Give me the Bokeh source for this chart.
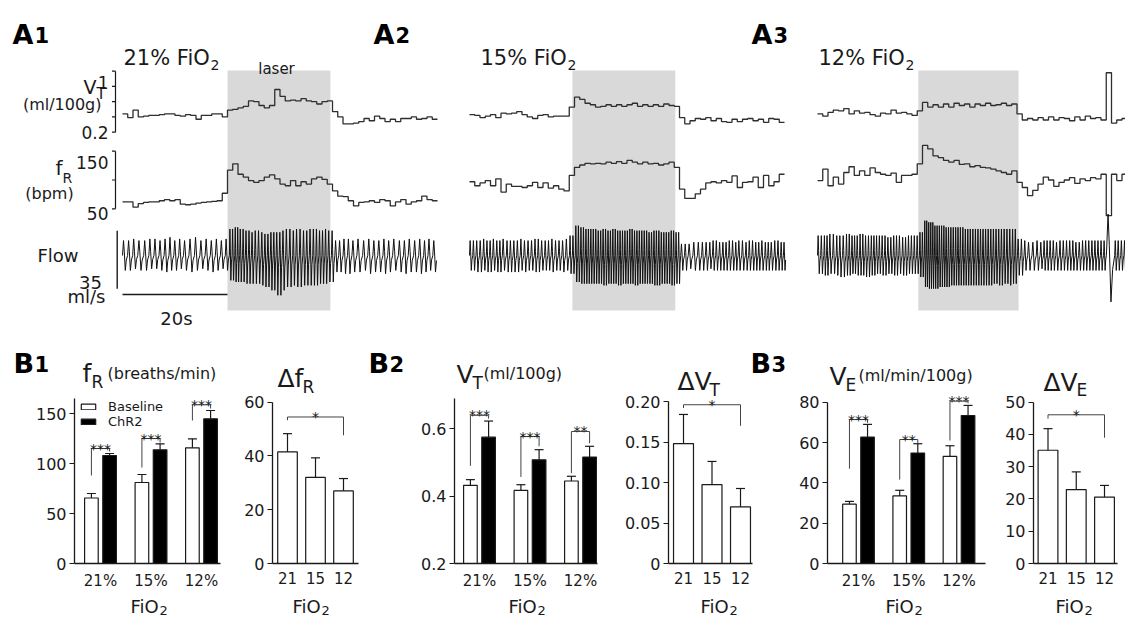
from bokeh.plotting import figure
from bokeh.models import (Range1d, FixedTicker, Legend, LegendItem, Whisker, TeeHead, LinearAxis,
                          ColumnDataSource, PrintfTickFormatter)
from bokeh.core.properties import value
from bokeh.embed import file_html
from bokeh.resources import INLINE

FONT = "DejaVu Sans"
INK = "#1a1a1a"
TRACE = "#2e2e2e"

# ---------------- trace data (1-s bins, 60 s per panel) ----------------
a1_vt = [0.44, 0.39, 0.49, 0.40, 0.41, 0.42, 0.42, 0.43, 0.44, 0.44,
         0.42, 0.41, 0.43, 0.42, 0.37, 0.42, 0.42, 0.44, 0.44, 0.40,
         0.49, 0.50, 0.52, 0.54, 0.61, 0.60, 0.55, 0.52, 0.55, 0.76,
         0.67, 0.61, 0.62, 0.61, 0.64, 0.61, 0.60, 0.57, 0.60, 0.61,
         0.47, 0.40, 0.31, 0.31, 0.32, 0.34, 0.38, 0.35, 0.41, 0.38,
         0.34, 0.37, 0.34, 0.38, 0.38, 0.40, 0.37, 0.38, 0.40, 0.37]
a1_fr = [62, 62, 53, 59, 61, 62, 62, 64, 66, 64,
         66, 58, 57, 58, 60, 61, 62, 63, 64, 77,
         117, 128, 110, 105, 99, 96, 99, 105, 109, 102,
         93, 90, 99, 90, 97, 93, 102, 105, 101, 93,
         81, 72, 71, 64, 55, 61, 62, 64, 61, 66,
         64, 55, 62, 66, 58, 62, 64, 72, 66, 64]
a1_flow_hi = [9, 10, 9, 11, 9, 10, 9, 10, 11, 9, 10, 9, 10, 11, 9, 10, 9, 10, 9, 10,
              16, 17, 16, 15, 14, 15, 14, 13, 14, 14, 15, 16, 15, 16, 15, 16, 16, 15, 16, 15,
              9, 9, 10, 9, 10, 9, 10, 9, 9, 10, 9, 10, 9, 9, 10, 9, 10, 9, 10, 9]
a1_flow_lo = [-9, -8, -9, -10, -9, -8, -9, -10, -9, -9, -8, -9, -10, -9, -8, -9, -10, -9, -8, -9,
              -15, -16, -16, -17, -17, -17, -18, -19, -21, -24, -21, -19, -18, -19, -18, -18, -18, -17, -17, -16,
              -10, -10, -11, -10, -10, -9, -11, -10, -10, -11, -10, -9, -10, -11, -10, -10, -11, -10, -9, -10]

a2_vt = [0.43, 0.42, 0.39, 0.41, 0.43, 0.39, 0.45, 0.44, 0.45, 0.47,
         0.43, 0.40, 0.38, 0.42, 0.43, 0.40, 0.41, 0.41, 0.41, 0.53,
         0.66, 0.63, 0.58, 0.56, 0.53, 0.54, 0.56, 0.54, 0.56, 0.54,
         0.56, 0.58, 0.54, 0.56, 0.54, 0.56, 0.54, 0.57, 0.55, 0.54,
         0.39, 0.31, 0.35, 0.38, 0.37, 0.39, 0.35, 0.38, 0.34, 0.33,
         0.37, 0.34, 0.37, 0.38, 0.35, 0.37, 0.33, 0.38, 0.37, 0.33]
a2_fr = [97, 90, 95, 99, 90, 102, 79, 93, 89, 89,
         87, 90, 96, 87, 95, 86, 90, 84, 81, 108,
         122, 126, 129, 128, 129, 128, 131, 129, 132, 129,
         134, 131, 128, 131, 128, 129, 126, 128, 131, 122,
         84, 68, 68, 76, 84, 95, 97, 95, 99, 96,
         107, 87, 96, 97, 105, 87, 108, 90, 97, 110]
a2_flow_hi = [9, 9, 10, 9, 10, 9, 10, 9, 9, 10, 9, 9, 10, 9, 9, 10, 9, 9, 10, 12,
              18, 17, 16, 16, 15, 16, 15, 16, 15, 15, 16, 15, 15, 15, 14, 15, 14, 14, 15, 14,
              7, 7, 8, 8, 8, 8, 9, 8, 8, 9, 8, 9, 8, 9, 8, 9, 8, 8, 9, 8]
a2_flow_lo = [-9, -10, -9, -10, -9, -10, -9, -10, -10, -9, -10, -9, -10, -9, -9, -10, -9, -10, -9, -11,
              -16, -17, -17, -17, -17, -18, -17, -17, -18, -17, -17, -18, -17, -17, -17, -18, -17, -17, -18, -17,
              -9, -8, -9, -9, -9, -8, -9, -9, -9, -9, -9, -9, -9, -9, -9, -9, -9, -9, -9, -9]

a3_vt = [0.44, 0.41, 0.46, 0.49, 0.48, 0.51, 0.44, 0.48, 0.45, 0.46,
         0.43, 0.41, 0.45, 0.44, 0.49, 0.45, 0.46, 0.44, 0.42, 0.48,
         0.59, 0.53, 0.56, 0.53, 0.57, 0.53, 0.58, 0.55, 0.57, 0.53,
         0.57, 0.55, 0.58, 0.55, 0.56, 0.58, 0.55, 0.57, 0.44, 0.36,
         0.38, 0.36, 0.39, 0.36, 0.40, 0.36, 0.39, 0.38, 0.35, 0.40,
         0.36, 0.41, 0.38, 0.39, 0.36, 0.98, 0.32, 0.36, 0.38, 0.40]
a3_fr = [99, 119, 90, 105, 93, 113, 123, 108, 116, 108,
         121, 113, 110, 108, 112, 96, 108, 108, 110, 128,
         160, 154, 142, 139, 134, 131, 134, 127, 128, 123,
         125, 122, 121, 119, 116, 113, 110, 116, 96, 87,
         73, 82, 93, 105, 100, 89, 96, 100, 104, 94,
         102, 99, 104, 102, 110, 38, 110, 99, 110, 108]
a3_flow_hi = [12, 12, 13, 12, 12, 13, 12, 12, 13, 12, 12, 12, 12, 11, 12, 12, 11, 12, 12, 14,
              21, 20, 18, 18, 17, 17, 17, 17, 16, 16, 16, 16, 16, 16, 16, 16, 16, 16, 10, 9,
              8, 9, 8, 9, 9, 8, 9, 9, 9, 8, 9, 9, 9, 9, 9, 25, 9, 9, 9, 9]
a3_flow_lo = [-11, -12, -11, -12, -13, -12, -11, -12, -12, -13, -12, -11, -12, -11, -12, -11, -12, -11, -11, -13,
              -19, -20, -20, -19, -19, -18, -18, -18, -18, -18, -18, -18, -18, -17, -18, -17, -18, -17, -12, -9,
              -9, -9, -8, -9, -9, -9, -9, -9, -9, -9, -9, -9, -9, -9, -9, -28, -9, -9, -9, -9]

laser_on = [20.0, 19.6, 19.2]
laser_off = [39.6, 39.2, 38.3]
conditions = ["21% FiO", "15% FiO", "12% FiO"]
vt_scale_ticks = [0.2, 0.4, 0.6, 0.8, 1.0]
fr_scale_ticks = [50, 100, 150]
flow_scale = 35      # ml/s
time_scale = 20      # s

# ---------------- bar data ----------------
fio2_pct = ["21%", "15%", "12%"]
fio2_num = ["21", "15", "12"]
fr_base = [65.5, 81.0, 115.7]
fr_base_sem = [4.5, 8.0, 9.0]
fr_chr2 = [108.0, 113.7, 144.7]
fr_chr2_sem = [2.0, 6.0, 8.3]
dfr = [41.5, 32.0, 27.0]
dfr_sem = [6.8, 7.3, 4.6]
vt_base = [0.432, 0.417, 0.445]
vt_base_sem = [0.017, 0.017, 0.014]
vt_chr2 = [0.575, 0.508, 0.516]
vt_chr2_sem = [0.048, 0.030, 0.032]
dvt = [0.148, 0.0975, 0.070]
dvt_sem = [0.036, 0.0285, 0.0226]
ve_base = [29.4, 33.5, 53.1]
ve_base_sem = [1.4, 2.8, 5.3]
ve_chr2 = [62.7, 54.8, 73.4]
ve_chr2_sem = [6.3, 4.6, 5.0]
dve = [35.1, 22.9, 20.6]
dve_sem = [6.7, 5.5, 3.6]

# significance brackets: (stars, top, left-leg bottom, right-leg bottom)
fr_sig = ["***", "***", "***"]; fr_sig_top = [115, 125, 158.7]; fr_sig_l = [88, 96, 143]; fr_sig_r = [112, 121, 155]
dfr_sig = ["*"]; dfr_sig_top = [54.5]; dfr_sig_l = [53.3]; dfr_sig_r = [47.7]
vt_sig = ["***", "***", "**"]; vt_sig_top = [0.64, 0.577, 0.592]; vt_sig_l = [0.49, 0.457, 0.468]; vt_sig_r = [0.63, 0.548, 0.557]
dvt_sig = ["*"]; dvt_sig_top = [0.196]; dvt_sig_l = [0.192]; dvt_sig_r = [0.17]
ve_sig = ["***", "**", "***"]; ve_sig_top = [71.4, 61.5, 80.5]; ve_sig_l = [47, 41.6, 61]; ve_sig_r = [69.8, 59.7, 79.4]
dve_sig = ["*"]; dve_sig_top = [46.1]; dve_sig_l = [44.9]; dve_sig_r = [39.0]

# ---------------- layout (page pixels) ----------------
W, H = 1125, 617
BASE_PX = 563
PPS = 105 / 20.0
panel_x0 = [122, 469, 817]


def lin_range(v_a, px_a, v_b, px_b, px_lo, px_hi):
    k = (px_b - px_a) / (v_b - v_a)
    return Range1d(v_a + (px_lo - px_a) / k, v_a + (px_hi - px_a) / k)


p = figure(width=W, height=H, x_range=Range1d(0, W), y_range=Range1d(H, 0),
           x_axis_type=None, y_axis_type=None, toolbar_location=None, output_backend="svg",
           min_border=0, title=None)
p.outline_line_color = None


def add_text(x, y, s, size, bold=False, align="left", color=INK):
    p.text(x=[x], y=[y], text=[s], text_font=value(FONT), text_font_size=f"{size}px",
           text_font_style="bold" if bold else "normal", text_align=align,
           text_baseline="alphabetic", text_color=color)


# ================= A: traces =================
for i, x0 in enumerate(panel_x0):
    p.extra_x_ranges[f"a{i+1}"] = Range1d((0 - x0) / PPS, (W - x0) / PPS)
p.extra_y_ranges["vt"] = lin_range(1.0, 70.7, 0.2, 131.7, H, 0)
p.extra_y_ranges["fr"] = lin_range(150, 150.7, 50, 208.3, H, 0)
p.extra_y_ranges["flow"] = lin_range(0, 255, 35, 197, H, 0)


def step_xy(vals):
    return list(range(len(vals) + 1)), list(vals) + [vals[-1]]


def flow_xy(fr, hi, lo):
    xs, ys = [], []
    t = 0.0
    while t < len(fr):
        k = int(t)
        d = 60.0 / fr[k]
        xs += [t, t + 0.2 * d, t + 0.35 * d, t + 0.55 * d, t + 0.75 * d]
        ys += [0.0, hi[k], 0.25 * hi[k], lo[k], 0.3 * lo[k]]
        t += d
    return xs, ys


panels = [(a1_vt, a1_fr, a1_flow_hi, a1_flow_lo),
          (a2_vt, a2_fr, a2_flow_hi, a2_flow_lo),
          (a3_vt, a3_fr, a3_flow_hi, a3_flow_lo)]

for i, (vt, fr, fhi, flo) in enumerate(panels):
    xr = f"a{i+1}"
    p.quad(left=[laser_on[i]], right=[laser_off[i]], top=[70], bottom=[310], x_range_name=xr,
           fill_color="#d9d9d9", line_color=None)
    x, y = step_xy(vt)
    p.step(x=x, y=y, mode="after", x_range_name=xr, y_range_name="vt", line_color=TRACE, line_width=1.3)
    x, y = step_xy(fr)
    p.step(x=x, y=y, mode="after", x_range_name=xr, y_range_name="fr", line_color=TRACE, line_width=1.3)
    x, y = flow_xy(fr, fhi, flo)
    p.line(x=x, y=y, x_range_name=xr, y_range_name="flow", line_color="#111111", line_width=1.0)

# scale bars (panel A1)
xb = (115 - panel_x0[0]) / PPS
tl = 3.5 / PPS
p.segment(x0=[xb], y0=[vt_scale_ticks[0]], x1=[xb], y1=[vt_scale_ticks[-1]], x_range_name="a1",
          y_range_name="vt", line_color=INK, line_width=1.2)
p.segment(x0=[xb - tl] * 5, y0=vt_scale_ticks, x1=[xb] * 5, y1=vt_scale_ticks, x_range_name="a1",
          y_range_name="vt", line_color=INK, line_width=1.2)
p.segment(x0=[xb], y0=[fr_scale_ticks[0]], x1=[xb], y1=[fr_scale_ticks[-1]], x_range_name="a1",
          y_range_name="fr", line_color=INK, line_width=1.2)
p.segment(x0=[xb - tl] * 3, y0=fr_scale_ticks, x1=[xb] * 3, y1=fr_scale_ticks, x_range_name="a1",
          y_range_name="fr", line_color=INK, line_width=1.2)
xf = (116.7 - panel_x0[0]) / PPS
p.segment(x0=[xf], y0=[-20], x1=[xf], y1=[-20 + flow_scale], x_range_name="a1", y_range_name="flow",
          line_color=INK, line_width=1.4)
p.segment(x0=[0], y0=[294], x1=[time_scale], y1=[294], x_range_name="a1", line_color=INK, line_width=1.4)

for (lx, d) in [(12, "1"), (373, "2"), (751, "3")]:
    add_text(lx, 34, "A", 27, bold=True, color="#000")
    add_text(lx + 22, 34, d, 21, bold=True, color="#000")
for (lx, s) in zip([123, 480, 818], conditions):
    add_text(lx, 57, s, 21)
    add_text(lx + 87, 64, "2", 14)
add_text(276, 68, "laser", 15, align="center")
add_text(83, 86, "V", 19)
add_text(96, 93, "T", 15)
add_text(101, 104, "(ml/100g)", 16, align="right")
add_text(108, 82, "1", 17, align="right")
add_text(108, 132, "0.2", 17, align="right")
add_text(55, 167, "f", 20)
add_text(62, 177, "R", 14)
add_text(49, 193, "(bpm)", 16, align="center")
add_text(108, 162, "150", 17, align="right")
add_text(108, 213, "50", 17, align="right")
add_text(37, 255, "Flow", 18)
add_text(90, 282, "35", 18, align="center")
add_text(105, 296, "ml/s", 18, align="right")
add_text(176, 318, "20s", 18, align="center")

# ================= B: bar charts =================
GW, GOFF, DW = 0.27, 0.18, 0.70
cats = [1, 2, 3]


def bar_chart(name, frame, xpx, base, tick_top, tick_top_px, axis_top, ticks, xlabels, yfmt=None, yover=None):
    fl, fr_ = frame
    ppu = (BASE_PX - tick_top_px) / (tick_top - base)
    ppx = (xpx[1] - xpx[0]) / 2.0
    xn, yn = name + "x", name + "y"
    p.extra_x_ranges[xn] = lin_range(1, xpx[0], 3, xpx[1], 0, W)
    p.extra_y_ranges[yn] = lin_range(base, BASE_PX, tick_top, tick_top_px, H, 0)
    x_left = 1 + (fl - xpx[0]) / ppx
    x_right = 1 + (fr_ - xpx[0]) / ppx
    ya = LinearAxis(x_range_name=xn, y_range_name=yn, fixed_location=x_left, bounds=(base, axis_top),
                    ticker=FixedTicker(ticks=ticks))
    xa = LinearAxis(x_range_name=xn, y_range_name=yn, fixed_location=base, bounds=(x_left, x_right),
                    ticker=FixedTicker(ticks=cats),
                    major_label_overrides={1: xlabels[0], 2: xlabels[1], 3: xlabels[2]})
    for ax in (xa, ya):
        ax.axis_line_color = INK
        ax.axis_line_width = 1.3
        ax.major_tick_line_color = INK
        ax.major_tick_line_width = 1.2
        ax.minor_tick_line_color = None
        ax.major_label_text_font = FONT
        ax.major_label_text_color = INK
    xa.major_tick_out = 0
    xa.major_tick_in = 0
    xa.major_label_standoff = 8
    xa.major_label_text_font_size = "15px"
    ya.major_tick_out = 5
    ya.major_tick_in = 0
    ya.major_label_standoff = 3
    ya.major_label_text_font_size = "16px"
    if yfmt is not None:
        ya.formatter = yfmt
    if yover is not None:
        ya.major_label_overrides = yover
    p.add_layout(ya, "left")
    p.add_layout(xa, "below")
    return xn, yn


def whiskers(xn, yn, xs, vals, sems):
    src = ColumnDataSource(dict(x=xs, lower=vals, upper=[v + s for v, s in zip(vals, sems)]))
    p.add_layout(Whisker(source=src, base="x", lower="lower", upper="upper", dimension="height",
                         x_range_name=xn, y_range_name=yn,
                         line_color=INK, line_width=1.2, level="overlay", lower_head=None,
                         upper_head=TeeHead(size=9, line_color=INK, line_width=1.2)))


def brackets(xn, yn, xl, xr, stars, tops, lefts, rights):
    p.multi_line(xs=[[a, a, b, b] for a, b in zip(xl, xr)],
                 ys=[[l, t, t, r] for t, l, r in zip(tops, lefts, rights)],
                 x_range_name=xn, y_range_name=yn, line_color="#444444", line_width=1.0)
    p.text(x=[(a + b) / 2 for a, b in zip(xl, xr)], y=tops, text=stars, text_font=value(FONT),
           x_range_name=xn, y_range_name=yn,
           text_font_size="14px", text_align="center", text_baseline="alphabetic", text_color=INK)


def grouped(names, base, b_vals, b_sem, c_vals, c_sem, sig):
    xn, yn = names
    xw = [c - GOFF for c in cats]
    xk = [c + GOFF for c in cats]
    rw = p.vbar(x=xw, top=b_vals, bottom=base, width=GW, x_range_name=xn, y_range_name=yn,
                fill_color="white", line_color=INK, line_width=1.2)
    rk = p.vbar(x=xk, top=c_vals, bottom=base, width=GW, x_range_name=xn, y_range_name=yn,
                fill_color="black", line_color=INK, line_width=1.2)
    whiskers(xn, yn, xw, b_vals, b_sem)
    whiskers(xn, yn, xk, c_vals, c_sem)
    brackets(xn, yn, xw, xk, *sig)
    return rw, rk


def single(names, base, vals, sem, sig):
    xn, yn = names
    p.vbar(x=cats, top=vals, bottom=base, width=DW, x_range_name=xn, y_range_name=yn,
           fill_color="white", line_color=INK, line_width=1.2)
    whiskers(xn, yn, cats, vals, sem)
    brackets(xn, yn, [cats[0]], [cats[2]], *sig)


n1 = bar_chart("b1", (74, 220), (100, 201), 0, 150, 413, 165, [0, 50, 100, 150], fio2_pct)
rw, rk = grouped(n1, 0, fr_base, fr_base_sem, fr_chr2, fr_chr2_sem, (fr_sig, fr_sig_top, fr_sig_l, fr_sig_r))
legend = Legend(items=[LegendItem(label="Baseline", renderers=[rw]), LegendItem(label="ChR2", renderers=[rk])],
                location=(79, H - 429), glyph_width=18, glyph_height=7, label_standoff=11,
                label_text_font=FONT, label_text_font_size="13px", label_text_color=INK,
                label_height=12, spacing=0, padding=0, margin=0,
                border_line_alpha=0, background_fill_alpha=0)
p.add_layout(legend)

n2 = bar_chart("b1d", (272, 358), (287, 343), 0, 60, 401.7, 60, [0, 20, 40, 60], fio2_num)
single(n2, 0, dfr, dfr_sem, (dfr_sig, dfr_sig_top, dfr_sig_l, dfr_sig_r))

n3 = bar_chart("b2", (454, 597), (479, 580), 0.2, 0.6, 428.3, 0.69, [0.2, 0.4, 0.6], fio2_pct)
grouped(n3, 0.2, vt_base, vt_base_sem, vt_chr2, vt_chr2_sem, (vt_sig, vt_sig_top, vt_sig_l, vt_sig_r))

n4 = bar_chart("b2d", (668, 752), (683, 740), 0, 0.2, 401, 0.2, [0, 0.05, 0.1, 0.15, 0.2], fio2_num,
               yfmt=PrintfTickFormatter(format="%.2f"), yover={0: "0"})
single(n4, 0, dvt, dvt_sem, (dvt_sig, dvt_sig_top, dvt_sig_l, dvt_sig_r))

n5 = bar_chart("b3", (827, 985), (858, 958.5), 0, 80, 401.7, 80, [0, 20, 40, 60, 80], fio2_pct)
grouped(n5, 0, ve_base, ve_base_sem, ve_chr2, ve_chr2_sem, (ve_sig, ve_sig_top, ve_sig_l, ve_sig_r))

n6 = bar_chart("b3d", (1033, 1117), (1047.5, 1104), 0, 50, 401.7, 50, [0, 10, 20, 30, 40, 50], fio2_num)
single(n6, 0, dve, dve_sem, (dve_sig, dve_sig_top, dve_sig_l, dve_sig_r))

# panel letters and titles of section B
for (lx, d) in [(13, "1"), (368, "2"), (750, "3")]:
    add_text(lx, 363, "B", 27, bold=True, color="#000")
    add_text(lx + 21, 363, d, 21, bold=True, color="#000")
add_text(82, 373, "f", 25); add_text(91, 381, "R", 17); add_text(107, 373, "(breaths/min)", 16)
add_text(277, 378, "Δf", 25); add_text(302, 386, "R", 17)
add_text(456, 374, "V", 25); add_text(472, 382, "T", 17); add_text(483, 373, "(ml/100g)", 16)
add_text(677, 381, "ΔV", 25); add_text(709, 389, "T", 17)
add_text(829, 376, "V", 25); add_text(845, 384, "E", 17); add_text(858, 375, "(ml/min/100g)", 16)
add_text(1043, 382, "ΔV", 25); add_text(1076, 389, "E", 17)

for lx in [130, 292, 508, 700, 885, 1055]:
    add_text(lx, 606, "FiO", 18)
    add_text(lx + 29, 610, "2", 13)

open("out.html", "w").write(file_html(p, INLINE, title="Figure"))
